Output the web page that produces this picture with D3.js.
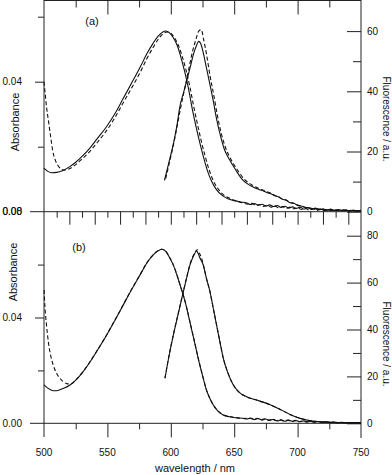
<!DOCTYPE html>
<html lang="en">
<meta charset="utf-8">
<title>Absorbance and fluorescence spectra</title>
<script src="https://d3js.org/d3.v7.min.js"></script>
<style>
body { margin: 0; background: white; }
svg text { font-family: "Liberation Sans", Arial, sans-serif; fill: #111; }
.tick text { font-size: 10px; }
.tick line { stroke: #222; }
.frame { stroke: #222; stroke-width: 1; }
.curve { fill: none; stroke: #111; stroke-width: 1.1; }
.dashed { stroke-dasharray: 4,2.5; }
</style>
<body>
<div id="chart"></div>
<script>
// ---------------- data ----------------
// panel (a): absorbance
const absA_wl    = [500,503,506,510,515,520,525,530,536,542,549,556,562,569,576,581,586,590,594,596,599,602,605,608,611,614,617,620,623,626,629,632,636,640,645,650,655,660,663,666,669,672,675,678,681,684,687,690,693,696,699,702,705,708,711,714,717,720,723,726,729,732,735,738,741,744,747,750];
const absA_solid = [0.0134,0.0124,0.0120,0.0121,0.0127,0.0138,0.0152,0.0170,0.0195,0.0225,0.0260,0.0302,0.0345,0.0395,0.0446,0.0485,0.0518,0.0540,0.0554,0.0556,0.0550,0.0535,0.0512,0.0475,0.0430,0.0378,0.0315,0.0260,0.0210,0.0165,0.0125,0.0095,0.0068,0.0052,0.0040,0.0034,0.0030,0.0027,0.0022,0.0025,0.0020,0.0023,0.0017,0.0021,0.0016,0.0019,0.0013,0.0017,0.0011,0.0015,0.0010,0.0014,0.0008,0.0012,0.0007,0.0011,0.0006,0.0009,0.0004,0.0008,0.0004,0.0007,0.0003,0.0006,0.0002,0.0005,0.0002,0.0004];
const absAd_wl   = [500,501,502,503.5,505,507,509,511,513,516,520,525,530,536,542,549,556,562,569,576,581,586,590,594,597,600,603,606,609,612,615,618,621,624,627,630,633,637,641,646,651,656,661,664,667,670,673,676,679,682,685,688,691,694,697,700,703,706,709,712,715,718,721,724,727,730,733,736,739,742,745,748,750];
const absA_dash  = [0.0400,0.0360,0.0322,0.0280,0.0238,0.0185,0.0158,0.0142,0.0133,0.0128,0.0132,0.0145,0.0162,0.0185,0.0213,0.0248,0.0290,0.0332,0.0380,0.0430,0.0470,0.0505,0.0530,0.0548,0.0553,0.0549,0.0535,0.0512,0.0478,0.0436,0.0385,0.0325,0.0270,0.0218,0.0172,0.0132,0.0100,0.0072,0.0054,0.0042,0.0034,0.0028,0.0023,0.0026,0.0019,0.0022,0.0016,0.0020,0.0014,0.0018,0.0012,0.0016,0.0010,0.0014,0.0009,0.0012,0.0007,0.0011,0.0005,0.0009,0.0004,0.0008,0.0003,0.0007,0.0003,0.0005,0.0002,0.0005,0.0001,0.0004,0.0002,0.0003,0.0002];

// panel (a): fluorescence
const fluA_wl    = [595,598,602,605,607,610,612.5,615,618,620.5,622,623.5,625.5,628,631,633.5,636,639,642,646.7,651,657,663,670,673,676,679,682,685,688,691,694,697,700,703,706,709,712,716,720,725,730,735,740,745,750];
const fluA_solid = [10.4,15.5,22.5,29,34.6,39.5,43.4,47.5,52.5,55.5,56.6,56,53,48,42,36.8,31,25.5,21,17,14,10.4,8.6,7.3,6.9,6.3,6.0,5.3,4.9,4.1,3.8,3.0,2.8,2.1,1.9,1.4,1.3,1.0,0.9,0.7,0.6,0.5,0.5,0.4,0.4,0.3];
const fluAd_wl   = [596,599,602,605,608,611,614,617,620,622,624,626,628.5,631,634,636.5,639.5,643,647.5,652,658,664,670,673,676,679,682,685,688,691,694,697,700,703,706,709,712,716,720,725,730,735,740,745,750];
const fluA_dash  = [11,16.5,22,28.5,35,41,47,53,57.5,60,60.5,57,51.5,45,38.5,32.5,26.5,21.5,17.3,14.2,10.8,8.9,7.6,7.1,6.6,6.1,5.4,5.0,4.2,3.9,3.1,2.8,2.2,1.9,1.5,1.3,1.0,0.9,0.7,0.6,0.5,0.5,0.4,0.4,0.3];

// panel (b): absorbance
const absB_wl    = [500,503,506,509,512,516,520.5,525,530,536,542,549,556,562,569,576,581,586,590,593,596,599,602,605,608,610,613,615,618,620.4,623,625.6,628,631,633.5,637,641,646,651,657,660,663,666,669,672,675,678,681,684,687,690,693,696,699,702,705,708,711,714,717,720,723,726,729,732,735,738,741,744,747,750];
const absB_solid = [0.0145,0.0133,0.0125,0.0123,0.0126,0.0133,0.0145,0.0163,0.0190,0.0230,0.0275,0.0330,0.0390,0.0443,0.0505,0.0563,0.0605,0.0636,0.0652,0.0658,0.0650,0.0627,0.0598,0.0558,0.0512,0.0482,0.0427,0.0384,0.0322,0.0271,0.0218,0.0170,0.0127,0.0092,0.0069,0.0047,0.0032,0.0025,0.0021,0.0019,0.0016,0.0020,0.0014,0.0018,0.0012,0.0016,0.0011,0.0015,0.0009,0.0013,0.0008,0.0012,0.0007,0.0010,0.0006,0.0009,0.0005,0.0008,0.0004,0.0007,0.0003,0.0006,0.0003,0.0005,0.0002,0.0004,0.0002,0.0003,0.0002,0.0003,0.0002];
const absBd_wl   = [500,500.8,502,503.4,505,507.3,510,512.6,515,518,521,525,530,536,542,549,556,562,569,576,581,586,590,593,596,599,602,605,608,610,613,615,618,620.4,623,625.6,628,631,633.5,637,641,646,651,657,662,665,668,671,674,677,680,683,686,689,692,695,698,701,704,707,710,713,716,719,722,725,728,731,734,737,740,743,746,750];
const absB_dash  = [0.0504,0.0435,0.0370,0.0309,0.0262,0.0220,0.0188,0.0170,0.0158,0.0150,0.0148,0.0163,0.0191,0.0231,0.0276,0.0331,0.0391,0.0444,0.0506,0.0564,0.0606,0.0637,0.0653,0.0658,0.0651,0.0628,0.0599,0.0559,0.0513,0.0483,0.0428,0.0385,0.0323,0.0272,0.0219,0.0171,0.0128,0.0093,0.0070,0.0048,0.0033,0.0026,0.0022,0.0018,0.0019,0.0015,0.0019,0.0013,0.0017,0.0011,0.0015,0.0010,0.0014,0.0008,0.0012,0.0007,0.0011,0.0006,0.0009,0.0005,0.0008,0.0004,0.0007,0.0003,0.0006,0.0002,0.0005,0.0002,0.0004,0.0002,0.0003,0.0001,0.0003,0.0002];

// panel (b): fluorescence
const fluB_wl    = [595.4,598,602,606,609.9,612.5,615.1,618,620.4,621.5,623,625.6,628,630.9,633.5,636.1,639,641.4,645,649.3,654,659.8,667,675.6,681,686,694,702,710,717.7,725,735,750];
const fluB_solid = [19.2,27,37.6,47,56.1,62,67.5,71.5,73.5,72.5,70.5,67.5,62,56.1,49,41.9,34,27.7,21.5,16.3,13.2,11.3,10.0,8.5,7.3,6.0,3.8,2.1,1.1,0.7,0.4,0.25,0.2];
const fluBd_wl   = [595.4,598,602,606,609.9,612.5,615.1,618,621,622.5,624,626,628,630.9,633.5,636.1,639,641.4,645,649.3,654,659.8,667,675.6,681,686,694,702,710,717.7,725,735,750];
const fluB_dash  = [19.3,27.2,37.8,47.2,56.3,62.2,67.8,71.8,74,72.6,70.8,66.8,62,56.2,49.1,42,34.1,27.8,21.6,16.4,13.2,11.3,10.0,8.5,7.3,6.0,3.8,2.1,1.1,0.7,0.4,0.25,0.2];

// ---------------- layout ----------------
const W = 392, H = 475;
const xL = 44, xR = 361;
const yTop = 0.5, yMid = 211.7, yBot = 423.3;

const svg = d3.select("#chart").append("svg")
  .attr("width", W).attr("height", H);

const x = d3.scaleLinear().domain([500, 750]).range([xL, xR]);

// panel (a) scales
const yAbsA = d3.scaleLinear().domain([0, 0.06]).range([yMid, 16.7]);
const yFluA = d3.scaleLinear().domain([0, 60]).range([yMid, 31.1]);
// panel (b) scales
const yAbsB = d3.scaleLinear().domain([0, 0.08]).range([yBot, yMid]);
const yFluB = d3.scaleLinear().domain([0, 80]).range([yBot, 235.7]);

// ---------------- frame lines ----------------
svg.append("line").attr("class", "frame")
  .attr("x1", xL).attr("x2", xR).attr("y1", yTop).attr("y2", yTop);
svg.append("line").attr("class", "frame")
  .attr("x1", 30).attr("x2", xR).attr("y1", yMid).attr("y2", yMid);
svg.append("line").attr("class", "frame")
  .attr("x1", 30).attr("x2", xR).attr("y1", yBot).attr("y2", yBot);
svg.append("line").attr("class", "frame")
  .attr("x1", xL).attr("x2", xL).attr("y1", 0).attr("y2", 437);
svg.append("line").attr("class", "frame")
  .attr("x1", xR).attr("x2", xR).attr("y1", 0).attr("y2", 438);

// helper to add an axis without the domain path
function addAxis(axis, tx, ty) {
  svg.append("g")
    .attr("transform", "translate(" + tx + "," + ty + ")")
    .call(axis)
    .call(g => g.select(".domain").remove());
}

// ---------------- x axes ----------------
// top of panel (a): ticks pointing down
addAxis(d3.axisBottom(x).tickValues([550, 600, 650, 700]).tickSize(14).tickFormat(""), 0, yTop);
addAxis(d3.axisBottom(x).tickValues([525, 575, 625, 675, 725]).tickSize(7).tickFormat(""), 0, yTop);
// between panels: ticks every 10 nm pointing down
addAxis(d3.axisBottom(x).tickValues(d3.range(520, 750, 20)).tickSize(13).tickFormat(""), 0, yMid);
addAxis(d3.axisBottom(x).tickValues(d3.range(510, 750, 20)).tickSize(6).tickFormat(""), 0, yMid);
// bottom axis with labels
addAxis(d3.axisBottom(x).tickValues([550, 600, 650, 700]).tickSize(14).tickFormat(""), 0, yBot);
addAxis(d3.axisBottom(x).tickValues([525, 575, 625, 675, 725]).tickSize(6).tickFormat(""), 0, yBot);
const xLabels = [500, 550, 600, 650, 700, 750];
svg.append("g").selectAll("text").data(xLabels).enter().append("text")
  .attr("x", d => x(d)).attr("y", 456)
  .attr("text-anchor", "middle").style("font-size", "10px")
  .text(d => d);

// ---------------- left axes (absorbance) ----------------
addAxis(d3.axisLeft(yAbsA).tickValues([0.04]).tickSize(9).tickFormat(""), xL, 0);
addAxis(d3.axisLeft(yAbsA).tickValues([0.02, 0.06]).tickSize(6).tickFormat(""), xL, 0);
addAxis(d3.axisLeft(yAbsB).tickValues([0.04]).tickSize(9).tickFormat(""), xL, 0);
addAxis(d3.axisLeft(yAbsB).tickValues([0.02, 0.06]).tickSize(6).tickFormat(""), xL, 0);

const absLabelsA = [0.00, 0.04];
const absLabelsB = [0.00, 0.04, 0.08];
svg.append("g").selectAll("text").data(absLabelsA).enter().append("text")
  .attr("x", 22).attr("y", d => yAbsA(d) + 3.5)
  .attr("text-anchor", "end").style("font-size", "10px")
  .text(d => d3.format(".2f")(d));
svg.append("g").selectAll("text").data(absLabelsB).enter().append("text")
  .attr("x", 22).attr("y", d => yAbsB(d) + 3.5)
  .attr("text-anchor", "end").style("font-size", "10px")
  .text(d => d3.format(".2f")(d));

// ---------------- right axes (fluorescence) ----------------
addAxis(d3.axisRight(yFluA).tickValues([0, 20, 40, 60]).tickSizeInner(-14).tickSizeOuter(0).tickPadding(6), xR, 0);
addAxis(d3.axisRight(yFluA).tickValues([10, 30, 50]).tickSizeInner(-8).tickSizeOuter(0).tickFormat(""), xR, 0);
addAxis(d3.axisRight(yFluB).tickValues([0, 20, 40, 60, 80]).tickSizeInner(-14).tickSizeOuter(0).tickPadding(6), xR, 0);
addAxis(d3.axisRight(yFluB).tickValues([10, 30, 50, 70]).tickSizeInner(-8).tickSizeOuter(0).tickFormat(""), xR, 0);
svg.selectAll(".tick text").style("font-size", "10px").attr("fill", "#111");

// ---------------- axis titles ----------------
function vText(txt, cx, cy, angle, size) {
  svg.append("text")
    .attr("transform", "translate(" + cx + "," + cy + ") rotate(" + angle + ")")
    .attr("text-anchor", "middle")
    .attr("dominant-baseline", "middle")
    .style("font-size", size)
    .text(txt);
}
vText("Absorbance", 16, 122, -90, "11px");
vText("Absorbance", 14, 272, -90, "11px");
vText("Fluorescence / a.u.", 386, 119, 90, "10px");
vText("Fluorescence / a.u.", 386, 344, 90, "10px");

svg.append("text").attr("x", 195).attr("y", 472)
  .attr("text-anchor", "middle").style("font-size", "11px")
  .text("wavelength / nm");

svg.append("text").attr("x", 92).attr("y", 25)
  .attr("text-anchor", "middle").style("font-size", "11px").text("(a)");
svg.append("text").attr("x", 79).attr("y", 251)
  .attr("text-anchor", "middle").style("font-size", "11px").text("(b)");

// ---------------- curves ----------------
function drawCurve(wl, vals, yScale, dashed) {
  const pts = wl.map((w, i) => [w, vals[i]]);
  const line = d3.line()
    .x(d => x(d[0]))
    .y(d => yScale(d[1]))
    .curve(d3.curveMonotoneX);
  svg.append("path")
    .attr("class", dashed ? "curve dashed" : "curve")
    .attr("d", line(pts));
}

drawCurve(absA_wl, absA_solid, yAbsA, false);
drawCurve(absAd_wl, absA_dash, yAbsA, true);
drawCurve(fluA_wl, fluA_solid, yFluA, false);
drawCurve(fluAd_wl, fluA_dash, yFluA, true);

drawCurve(absB_wl, absB_solid, yAbsB, false);
drawCurve(absBd_wl, absB_dash, yAbsB, true);
drawCurve(fluB_wl, fluB_solid, yFluB, false);
drawCurve(fluBd_wl, fluB_dash, yFluB, true);
</script>
</body>
</html>
